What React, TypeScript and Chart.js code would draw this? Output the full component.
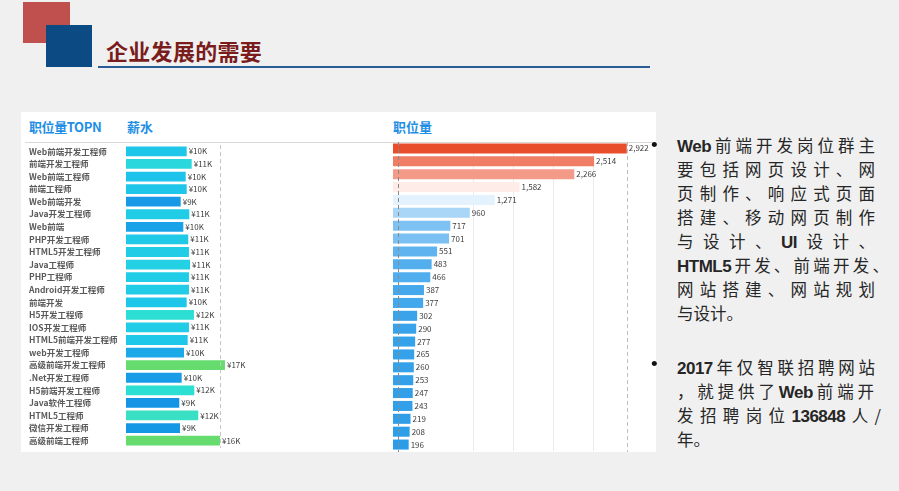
import React, { useEffect, useRef } from "react";
import { Chart, registerables } from "chart.js";

Chart.register(...registerables);

// ---------- data ----------
const categories = [
  "Web前端开发工程师", "前端开发工程师", "Web前端工程师", "前端工程师", "Web前端开发",
  "Java开发工程师", "Web前端", "PHP开发工程师", "HTML5开发工程师", "Java工程师",
  "PHP工程师", "Android开发工程师", "前端开发", "H5开发工程师", "IOS开发工程师",
  "HTML5前端开发工程师", "web开发工程师", "高级前端开发工程师", ".Net开发工程师", "H5前端开发工程师",
  "Java软件工程师", "HTML5工程师", "微信开发工程师", "高级前端工程师",
];
const salaryK = [
  10.43, 11.29, 10.26, 10.43, 9.4, 10.88, 9.85, 10.7, 10.82, 11.0,
  10.82, 10.82, 10.43, 11.68, 10.82, 10.6, 9.97, 17.01, 9.57, 11.74,
  9.16, 12.42, 9.28, 16.15,
];
const jobCounts = [
  2922, 2514, 2266, 1582, 1271, 960, 717, 701, 551, 483,
  466, 387, 377, 302, 290, 277, 265, 260, 253, 247,
  243, 219, 208, 196,
];
const salaryRefLines = [16.2];
const countRefLines = [62, 2922];
const countGridValues = [1000, 1500, 2000, 2500];
const salaryAxisMax = 22;
const countAxisMax = 3250;

const headerTitle = "企业发展的需要";
const panelHeaders = ["职位量TOPN", "薪水", "职位量"];

// ---------- colour scales ----------
const SALARY_STOPS: [number, string][] = [
  [9.1, "#1593e6"], [9.9, "#1aa3e8"], [10.25, "#1dc3ea"], [10.9, "#21cde6"],
  [11.3, "#29d7dc"], [11.8, "#2ee0d2"], [12.5, "#3ae0c2"], [16, "#66dc6e"], [17.2, "#66dc6e"],
];
const COUNT_STOPS: [number, string][] = [
  [196, "#2b9de8"], [480, "#52aeee"], [960, "#a9d6f7"], [1420, "#ffffff"], [2922, "#e94e2c"],
];

function hexRgb(h: string) {
  const n = parseInt(h.slice(1), 16);
  return [(n >> 16) & 255, (n >> 8) & 255, n & 255];
}
function interp(stops: [number, string][], v: number) {
  if (v <= stops[0][0]) return stops[0][1];
  for (let i = 1; i < stops.length; i++) {
    if (v <= stops[i][0]) {
      const [a, ca] = stops[i - 1];
      const [b, cb] = stops[i];
      const t = (v - a) / (b - a);
      const A = hexRgb(ca), B = hexRgb(cb);
      const c = A.map((x, k) => Math.round(x + (B[k] - x) * t));
      return `rgb(${c[0]},${c[1]},${c[2]})`;
    }
  }
  return stops[stops.length - 1][1];
}

const CJK = "'Noto Sans CJK SC', 'Noto Sans', sans-serif";

function makeOverlay(opts: {
  grid: number[];
  refs: { v: number; color: string }[];
  fmt: (v: number) => string;
}) {
  return {
    id: "overlay",
    beforeDatasetsDraw(chart: any) {
      const { ctx, chartArea, scales } = chart;
      ctx.save();
      ctx.strokeStyle = "#ebebeb";
      ctx.lineWidth = 1;
      opts.grid.forEach((g) => {
        const x = Math.round(scales.x.getPixelForValue(g)) + 0.5;
        ctx.beginPath();
        ctx.moveTo(x, chartArea.top);
        ctx.lineTo(x, chartArea.bottom);
        ctx.stroke();
      });
      ctx.restore();
    },
    afterDatasetsDraw(chart: any) {
      const { ctx, chartArea, scales } = chart;
      ctx.save();
      ctx.lineWidth = 1;
      ctx.setLineDash([4, 3]);
      opts.refs.forEach((r) => {
        const x = Math.round(scales.x.getPixelForValue(r.v)) + 0.5;
        ctx.strokeStyle = r.color;
        ctx.beginPath();
        ctx.moveTo(x, chartArea.top);
        ctx.lineTo(x, chartArea.bottom + 1);
        ctx.stroke();
      });
      ctx.setLineDash([]);
      const meta = chart.getDatasetMeta(0);
      const data = chart.data.datasets[0].data as number[];
      ctx.fillStyle = "#3c3c3c";
      ctx.font = `8px ${CJK}`;
      ctx.textAlign = "left";
      ctx.textBaseline = "middle";
      meta.data.forEach((bar: any, i: number) => {
        ctx.fillText(opts.fmt(data[i]), bar.x + 2, bar.y);
      });
      ctx.restore();
    },
  };
}

function SalaryChart() {
  const ref = useRef<HTMLCanvasElement>(null);
  useEffect(() => {
    const chart = new Chart(ref.current!, {
      type: "bar",
      data: {
        labels: categories,
        datasets: [
          {
            data: salaryK,
            backgroundColor: salaryK.map((v) => interp(SALARY_STOPS, v)),
            barPercentage: 0.78,
            categoryPercentage: 1,
          },
        ],
      },
      options: {
        indexAxis: "y",
        animation: false,
        responsive: false,
        layout: { padding: { left: 7, top: 2, bottom: 1, right: 0 } },
        plugins: { legend: { display: false }, tooltip: { enabled: false } },
        scales: {
          x: { display: false, min: 0, max: salaryAxisMax },
          y: {
            ticks: {
              crossAlign: "far",
              color: "#5a5a5a",
              font: { size: 8.5, family: CJK, weight: "bold" },
              padding: 0,
              autoSkip: false,
            },
            grid: { display: false },
            border: { display: false },
            afterFit: (s: any) => {
              s.width = 97;
            },
          },
        },
      },
      plugins: [
        makeOverlay({
          grid: [],
          refs: salaryRefLines.map((v) => ({ v, color: "#c4c4c4" })),
          fmt: (v) => `¥${Math.round(v)}K`,
        }),
      ],
    } as any);
    return () => chart.destroy();
  }, []);
  return (
    <canvas
      ref={ref}
      width={232}
      height={312}
      style={{ position: "absolute", left: 22, top: 140, width: 232, height: 312 }}
    />
  );
}

function CountChart() {
  const ref = useRef<HTMLCanvasElement>(null);
  useEffect(() => {
    const chart = new Chart(ref.current!, {
      type: "bar",
      data: {
        labels: categories,
        datasets: [
          {
            data: jobCounts,
            backgroundColor: jobCounts.map((v) => interp(COUNT_STOPS, v)),
            barPercentage: 0.78,
            categoryPercentage: 1,
          },
        ],
      },
      options: {
        indexAxis: "y",
        animation: false,
        responsive: false,
        layout: { padding: { left: 5, top: 2, bottom: 1, right: 0 } },
        plugins: { legend: { display: false }, tooltip: { enabled: false } },
        scales: {
          x: { display: false, min: 0, max: countAxisMax },
          y: { display: false },
        },
      },
      plugins: [
        makeOverlay({
          grid: countGridValues,
          refs: countRefLines.map((v, i) => ({ v, color: i === 0 ? "#8a8a8a" : "#bdbdbd" })),
          fmt: (v) => v.toLocaleString("en-US"),
        }),
      ],
    } as any);
    return () => chart.destroy();
  }, []);
  return (
    <canvas
      ref={ref}
      width={265}
      height={312}
      style={{ position: "absolute", left: 388, top: 140, width: 265, height: 312 }}
    />
  );
}

const LATIN = "'Liberation Sans Narrow', 'Liberation Sans', Arial, sans-serif";

type Seg = string | { l: string };
const para1: { segs: Seg[]; w: number | null }[] = [
  { segs: [{ l: "Web" }, "前端开发岗位群主"], w: 198 },
  { segs: ["要包括网页设计、网"], w: 198 },
  { segs: ["页制作、响应式页面"], w: 198 },
  { segs: ["搭建、移动网页制作"], w: 198 },
  { segs: ["与设计、", { l: "UI" }, "设计、"], w: 198 },
  { segs: [{ l: "HTML5" }, "开发、前端开发、"], w: 212 },
  { segs: ["网站搭建、网站规划"], w: 198 },
  { segs: ["与设计。"], w: null },
];
const para2: { segs: Seg[]; w: number | null }[] = [
  { segs: [{ l: "2017" }, "年仅智联招聘网站"], w: 198 },
  { segs: ["，就提供了", { l: "Web" }, "前端开"], w: 197 },
  { segs: ["发招聘岗位", { l: "136848" }, "人/"], w: 204 },
  { segs: ["年。"], w: null },
];

function Para({ lines, top }: { lines: { segs: Seg[]; w: number | null }[]; top: number }) {
  return (
    <div style={{ position: "absolute", left: 677, top }}>
      {lines.map((ln, i) => (
        <div
          key={i}
          style={{
            width: ln.w ?? undefined,
            height: 24,
            lineHeight: "24px",
            whiteSpace: "nowrap",
            textAlign: ln.w ? "justify" : "left",
            textAlignLast: ln.w ? "justify" : "left",
            fontFamily: CJK,
            fontSize: 16.5,
            color: "#262626",
          } as any}
        >
          {ln.segs.map((s, k) =>
            typeof s === "string" ? (
              <span key={k}>{s}</span>
            ) : (
              <span key={k} style={{ fontFamily: LATIN, fontWeight: 700, fontSize: 17, letterSpacing: -0.5 }}>
                {s.l}
              </span>
            )
          )}
        </div>
      ))}
    </div>
  );
}

export default function App() {
  const hdrStyle: React.CSSProperties = {
    position: "absolute",
    top: 118,
    fontFamily: CJK,
    fontWeight: 700,
    fontSize: 13,
    lineHeight: "18px",
    color: "#1f8fe5",
    whiteSpace: "nowrap",
  };
  const bullet: React.CSSProperties = {
    position: "absolute",
    left: 651,
    fontFamily: "'Liberation Sans', Arial",
    fontSize: 19,
    lineHeight: "24px",
    color: "#111",
  };
  return (
    <div
      style={{
        position: "absolute",
        left: 0,
        top: 0,
        width: 899,
        height: 491,
        background: "#f0f0f0",
        overflow: "hidden",
      }}
    >
      {/* decorative squares */}
      <div style={{ position: "absolute", left: 23, top: 2, width: 47, height: 41, background: "#c0504d" }} />
      <div style={{ position: "absolute", left: 46, top: 25, width: 46, height: 42, background: "#0b4a82" }} />
      {/* title */}
      <div
        style={{
          position: "absolute",
          left: 106,
          top: 35,
          fontFamily: CJK,
          fontWeight: 700,
          fontSize: 22,
          lineHeight: "30px",
          letterSpacing: 0.3,
          color: "#7a1c1c",
          whiteSpace: "nowrap",
        }}
      >
        {headerTitle}
      </div>
      <div style={{ position: "absolute", left: 98, top: 66, width: 552, height: 2, background: "#2a5d95" }} />

      {/* chart panel */}
      <div style={{ position: "absolute", left: 21, top: 112, width: 635, height: 340, background: "#ffffff" }} />
      <div style={{ position: "absolute", left: 25, top: 142, width: 631, height: 1, background: "#d9d9d9" }} />
      <div style={{ ...hdrStyle, left: 29, letterSpacing: -0.4 }}>{panelHeaders[0]}</div>
      <div style={{ ...hdrStyle, left: 127 }}>{panelHeaders[1]}</div>
      <div style={{ ...hdrStyle, left: 393 }}>{panelHeaders[2]}</div>
      <SalaryChart />
      <CountChart />

      {/* bullets + text */}
      <div style={{ ...bullet, top: 133 }}>•</div>
      <div style={{ ...bullet, top: 352 }}>•</div>
      <Para lines={para1} top={133} />
      <Para lines={para2} top={355} />
    </div>
  );
}
